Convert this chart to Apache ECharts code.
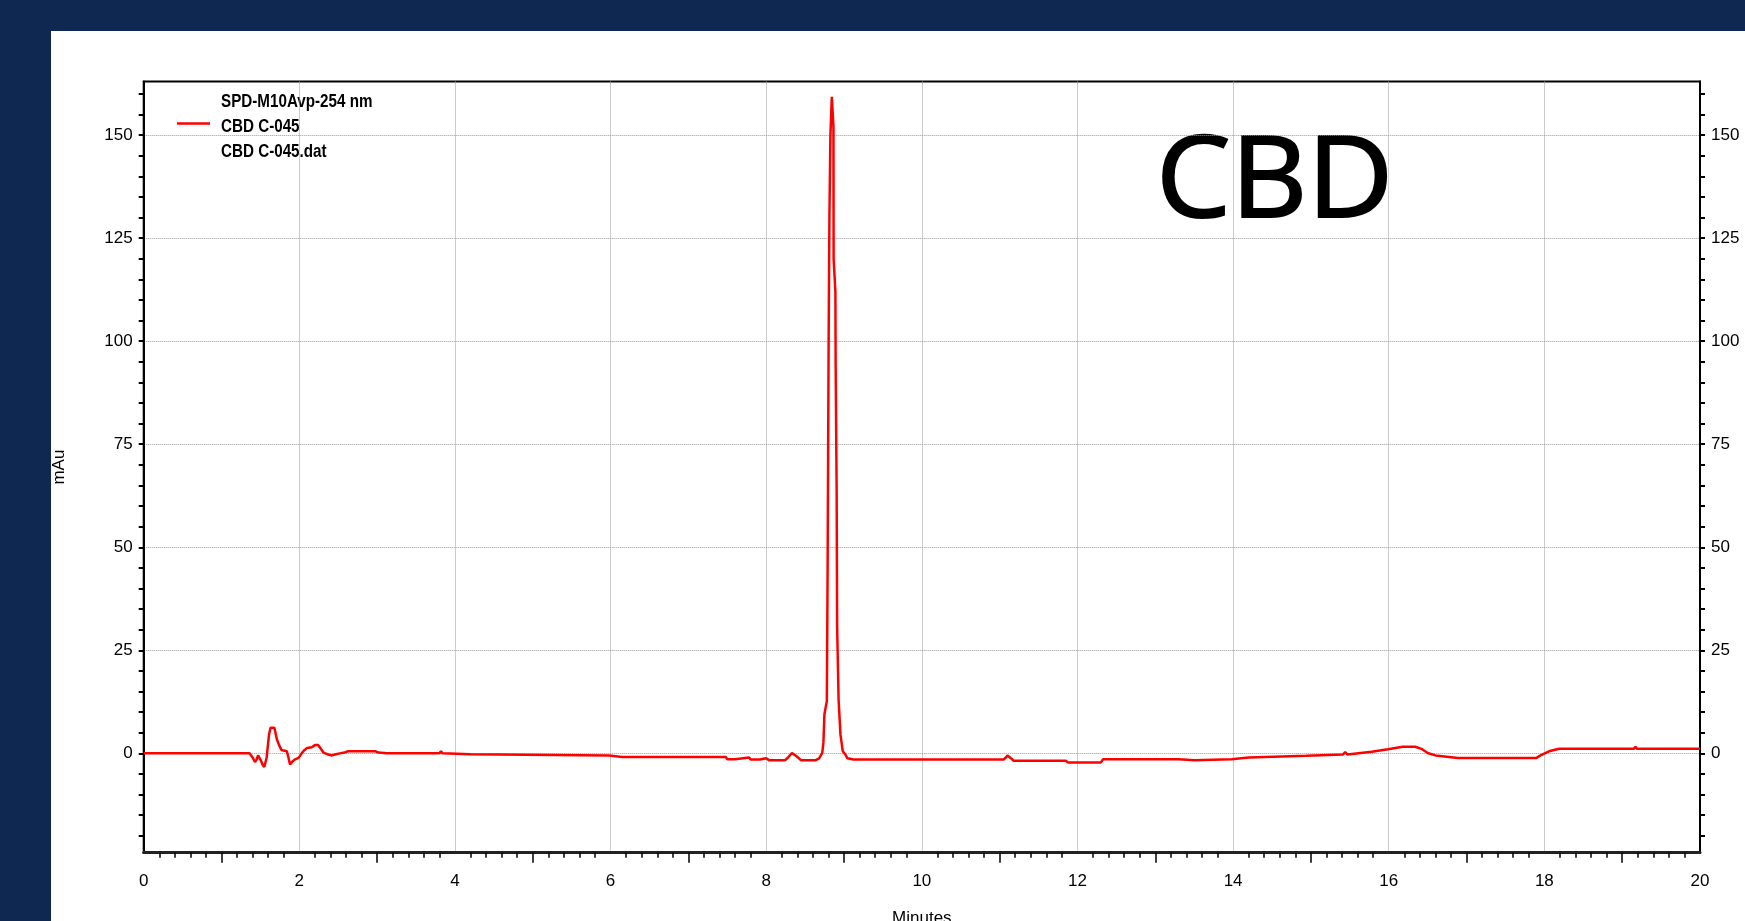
<!DOCTYPE html>
<html><head><meta charset="utf-8">
<script src="https://cdn.jsdelivr.net/npm/echarts@6/dist/echarts.min.js"></script>
<style>
html,body{margin:0;padding:0;width:1745px;height:921px;background:#0e2852;overflow:hidden;}
#chart{position:absolute;left:51px;top:31px;width:1694px;height:890px;background:#fff;}
</style></head><body><div id="chart"></div>
<script>
// ---- data ----
const times = [0,1.36,1.40,1.43,1.45,1.47,1.50,1.53,1.55,1.58,1.61,1.63,1.68,1.71,1.74,1.77,1.84,1.86,1.88,1.91,1.94,1.99,2.03,2.06,2.10,2.16,2.20,2.24,2.27,2.31,2.36,2.42,2.47,2.52,2.58,2.62,2.98,3.02,3.12,3.80,3.82,3.84,4.20,4.22,5.98,6.00,6.15,6.16,6.18,7.48,7.50,7.60,7.62,7.78,7.80,7.92,7.94,8.00,8.04,8.24,8.27,8.33,8.39,8.45,8.63,8.68,8.72,8.735,8.748,8.779,8.789,8.802,8.812,8.825,8.843,8.847,8.864,8.866,8.889,8.892,8.905,8.911,8.93,8.95,8.954,8.984,9.014,9.044,9.121,11.05,11.08,11.10,11.14,11.18,11.85,11.88,12.30,12.33,13.30,13.32,13.50,13.52,13.98,14.20,14.94,15.41,15.44,15.47,15.78,15.99,16.18,16.34,16.42,16.50,16.60,16.89,17.90,17.95,18.06,18.19,19.15,19.17,19.19,20];
const values = [0,0,-1.0,-2.1,-1.5,-0.5,-1.5,-2.8,-3.3,-1.0,4.5,6.2,6.2,3.5,2.0,0.8,0.5,-1.0,-2.7,-2.0,-1.5,-1.1,0.0,0.7,1.3,1.5,2.0,2.0,1.3,0.2,-0.2,-0.5,-0.2,0.0,0.2,0.5,0.5,0.2,0.0,0.0,0.5,0.0,-0.2,-0.5,-0.5,-0.9,-0.9,-0.5,-0.9,-0.9,-1.4,-1.4,-1.0,-1.0,-1.5,-1.5,-1.2,-1.2,-1.7,-1.7,-1.2,0.1,-0.7,-1.7,-1.7,-1.2,0.1,2.6,9.5,12.7,45,100,130,150,159.3,159.3,152,120,112,95,64,31,13,12.7,4.6,0.5,-0.2,-1.2,-1.5,-1.5,-1.0,-0.5,-1.1,-1.8,-1.8,-2.2,-2.2,-1.4,-1.4,-1.7,-1.7,-1.4,-1.4,-1.0,-0.6,-0.3,0.3,-0.3,0.4,1.0,1.6,1.6,1.1,0.1,-0.5,-1.1,-1.1,-0.5,0.5,1.1,1.1,1.6,1.1,1.1];
const yLabelValues = [0,25,50,75,100,125,150];
const yMinorTicks = [-20,-15,-10,-5,0,5,10,15,20,25,30,35,40,45,50,55,60,65,70,75,80,85,90,95,100,105,110,115,120,125,130,135,140,145,150,155,160];
const xLabelStep = 2;
const xLongTicks = [1,3,5,7,9,11,13,15,17,19];
const legendLines = ['SPD-M10Avp-254 nm','CBD C-045','CBD C-045.dat'];
const seriesName = 'CBD C-045';
const bigLabel = 'CBD';

const xMinorTicks = [];
for (let i = 1; i < 100; i++) { if (i % 5 !== 0) xMinorTicks.push(i / 5); }

const data = times.map((t, i) => [t, values[i]]);
const NARROW = "'Liberation Sans Narrow','Arial Narrow','Liberation Sans',Arial,sans-serif";

const chart = echarts.init(document.getElementById('chart'));
const yMin = -24.1, yMax = 163.0;
const baseX = {type:'value', min:0, max:20, position:'bottom', axisLine:{onZero:false, show:false}, axisLabel:{show:false}, splitLine:{show:false}, axisTick:{show:false}};
const baseY = {type:'value', min:yMin, max:yMax, axisLine:{onZero:false, show:false}, axisLabel:{show:false}, splitLine:{show:false}, axisTick:{show:false}};

chart.setOption({
  animation:false,
  backgroundColor:'#ffffff',
  grid:{left:92.7, right:45, top:50.5, bottom:68.3, show:true, borderColor:'#000', borderWidth:2, backgroundColor:'transparent', containLabel:false, outerBoundsMode:'none'},
  xAxis:[
    Object.assign({}, baseX, {
      interval:xLabelStep,
      axisLine:{show:true, onZero:false, lineStyle:{color:'#222', width:3}},
      axisLabel:{show:true, margin:20, fontFamily:NARROW, fontSize:17, color:'#000'},
      splitLine:{show:true, lineStyle:{color:'#9a9a9a', type:'dotted', width:1}},
      name:'Minutes', nameLocation:'middle', nameGap:57,
      nameTextStyle:{fontFamily:NARROW, fontSize:17, color:'#000'}
    }),
    Object.assign({}, baseX, {axisTick:{show:true, customValues:xMinorTicks, length:5, lineStyle:{color:'#000', width:1.5}}}),
    Object.assign({}, baseX, {axisTick:{show:true, customValues:xLongTicks, length:10, lineStyle:{color:'#000', width:1.5}}})
  ],
  yAxis:[
    Object.assign({}, baseY, {
      position:'left',
      axisLine:{show:true, onZero:false, lineStyle:{color:'#000', width:2}},
      axisLabel:{show:true, customValues:yLabelValues, margin:11, fontFamily:NARROW, fontSize:17, color:'#000'},
      axisTick:{show:true, customValues:yMinorTicks, length:5, lineStyle:{color:'#000', width:2}},
      name:'mAu', nameLocation:'middle', nameGap:76,
      nameTextStyle:{fontFamily:"'Liberation Sans',Arial,sans-serif", fontSize:17, color:'#000'}
    }),
    Object.assign({}, baseY, {
      position:'right',
      axisLine:{show:true, onZero:false, lineStyle:{color:'#000', width:2}},
      axisLabel:{show:true, customValues:yLabelValues, margin:11, fontFamily:NARROW, fontSize:17, color:'#000'},
      axisTick:{show:true, customValues:yMinorTicks, length:5, lineStyle:{color:'#000', width:2}}
    }),
    Object.assign({}, baseY, {
      position:'left',
      axisTick:{show:false, customValues:yLabelValues},
      splitLine:{show:true, lineStyle:{color:'#9a9a9a', type:'dotted', width:1}}
    })
  ],
  series:[{
    name:seriesName, type:'line', data:data, xAxisIndex:0, yAxisIndex:0,
    showSymbol:false, symbol:'none', clip:true,
    lineStyle:{color:'#ff0000', width:2.5}, z:5
  }],
  graphic:[
    {type:'line', shape:{x1:126, y1:92.5, x2:159, y2:92.5}, style:{stroke:'#ff0000', lineWidth:2.5}},
    {type:'text', x:170, y:70.5, scaleX:0.8, style:{text:legendLines[0], font:"bold 19px "+NARROW, fill:'#000', verticalAlign:'middle'}},
    {type:'text', x:170, y:95.5, scaleX:0.8, style:{text:legendLines[1], font:"bold 19px "+NARROW, fill:'#000', verticalAlign:'middle'}},
    {type:'text', x:170, y:120.5, scaleX:0.8, style:{text:legendLines[2], font:"bold 19px "+NARROW, fill:'#000', verticalAlign:'middle'}},
    {type:'text', x:1105, y:153.5, scaleX:1.04, style:{text:bigLabel, font:"114px 'Open Sans',sans-serif", fill:'#000', stroke:'#000', lineWidth:2, verticalAlign:'middle'}}
  ]
});
</script></body></html>
